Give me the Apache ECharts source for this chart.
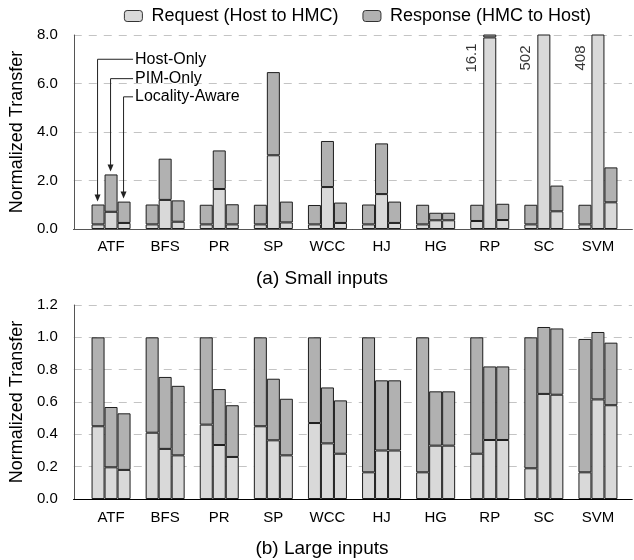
<!DOCTYPE html>
<html><head><meta charset="utf-8">
<script src="https://cdn.jsdelivr.net/npm/echarts@6/dist/echarts.min.js"></script>
<style>html,body{margin:0;padding:0;background:#fff}#c{width:634px;height:560px}</style>
</head><body><div id="c"></div>
<script>
// ---------- data ----------
const categories = ['ATF','BFS','PR','SP','WCC','HJ','HG','RP','SC','SVM'];
const configs = ['Host-Only','PIM-Only','Locality-Aware'];

// (a) Small inputs: request part and response part of each stacked bar
const smallHostReq  = [0.19,0.19,0.19,0.19,0.19,0.19,0.19,0.33,0.19,0.19];
const smallHostResp = [0.82,0.82,0.81,0.81,0.80,0.82,0.81,0.67,0.81,0.81];
const smallPimReq   = [0.71,1.20,1.65,3.04,1.73,1.44,0.36,7.9,499.5,406.0];
const smallPimResp  = [1.54,1.70,1.59,3.43,1.90,2.09,0.31,8.2,2.5,2.0];
const smallLaReq    = [0.25,0.30,0.19,0.27,0.25,0.25,0.36,0.37,0.73,1.10];
const smallLaResp   = [0.88,0.88,0.83,0.86,0.84,0.88,0.31,0.67,1.06,1.44];

// (b) Large inputs
const largeHostReq  = [0.45,0.41,0.46,0.45,0.47,0.165,0.165,0.28,0.19,0.165];
const largeHostResp = [0.55,0.59,0.54,0.55,0.53,0.835,0.835,0.72,0.81,0.825];
const largePimReq   = [0.196,0.31,0.334,0.363,0.344,0.30,0.33,0.365,0.65,0.616];
const largePimResp  = [0.373,0.445,0.346,0.381,0.346,0.434,0.336,0.455,0.414,0.417];
const largeLaReq    = [0.18,0.27,0.26,0.27,0.28,0.30,0.33,0.365,0.645,0.58];
const largeLaResp   = [0.35,0.43,0.32,0.35,0.33,0.434,0.336,0.455,0.41,0.387];

const smallTicks = {min:0, max:8, interval:2};
const largeTicks = {min:0, max:1.2, interval:0.2};
const reqName = 'Request (Host to HMC)';
const respName = 'Response (HMC to Host)';

// ---------- style ----------
const FONT = '"Liberation Sans", Arial, Helvetica, sans-serif';
const REQ_COLOR = '#d9d9d9', RESP_COLOR = '#b1b1b1', EDGE = '#1e1e1e';
const BAR_W = 13;

const chart = echarts.init(document.getElementById('c'), null, {renderer:'canvas'});

function barSeries(name, stack, data, color, axisIdx) {
  return {
    type:'bar', name, stack, data, xAxisIndex:axisIdx, yAxisIndex:axisIdx,
    barWidth:BAR_W, barGap:'0%',
    itemStyle:{color, borderColor:EDGE, borderWidth:1},
    emphasis:{disabled:true}, animation:false
  };
}
function panelSeries(prefix, arrs, axisIdx) {
  const out = [];
  configs.forEach((c, i) => {
    const st = prefix + '-' + c;
    out.push(barSeries(reqName, st, arrs[i][0], REQ_COLOR, axisIdx));
    out.push(barSeries(respName, st, arrs[i][1], RESP_COLOR, axisIdx));
  });
  return out;
}

const smallSeries = panelSeries('small', [[smallHostReq,smallHostResp],[smallPimReq,smallPimResp],[smallLaReq,smallLaResp]], 1);
const largeSeries = panelSeries('large', [[largeHostReq,largeHostResp],[largePimReq,largePimResp],[largeLaReq,largeLaResp]], 4);

// overflow labels for PIM-Only bars exceeding the top axis
const overflow = [];
categories.forEach((c, i) => {
  const tot = smallPimReq[i] + smallPimResp[i];
  if (tot > smallTicks.max) overflow.push([i, smallTicks.max, tot >= 100 ? Math.round(tot).toString() : tot.toFixed(1)]);
});

function frameAxes(grid, ticks, topColor, fmtDigits) {
  return {
    x: [
      {gridIndex:grid, type:'value', min:0, max:1, position:'bottom',
       axisLine:{show:true, lineStyle:{color:'#000', width:1}}, axisTick:{show:false}, axisLabel:{show:false}, splitLine:{show:false}},
      {gridIndex:grid, type:'value', min:0, max:1, position:'top',
       axisLine:{show:true, lineStyle:{color:topColor, width:1}}, axisTick:{show:false}, axisLabel:{show:false}, splitLine:{show:false}}
    ],
    y: {gridIndex:grid, type:'value', min:ticks.min, max:ticks.max, interval:ticks.interval,
      axisLine:{show:true, lineStyle:{color:'#555', width:1}}, axisTick:{show:false},
      axisLabel:{formatter:v => v.toFixed(fmtDigits), fontFamily:FONT, fontSize:15, color:'#000', margin:16},
      splitLine:{show:true, lineStyle:{color:'#c4c4c4', type:[8,7], width:1}},
      name:'Normalized Transfer', nameLocation:'middle', nameGap:45,
      nameTextStyle:{fontFamily:FONT, fontSize:18, color:'#000'}}
  };
}
const fa = frameAxes(0, smallTicks, '#555', 1);
const fb = frameAxes(2, largeTicks, '#000', 1);

function catAxis(grid, margin) {
  return {gridIndex:grid, type:'category', data:categories,
    axisLine:{show:false}, axisTick:{show:false}, splitLine:{show:false},
    axisLabel:{fontFamily:FONT, fontSize:15, color:'#000', margin, interval:0}};
}
function hiddenY(grid, ticks) {
  return {gridIndex:grid, type:'value', min:ticks.min, max:ticks.max, interval:ticks.interval, show:false, splitLine:{show:false}};
}

const option = {
  backgroundColor:'#fff',
  animation:false,
  textStyle:{fontFamily:FONT},
  legend:{
    data:[reqName, respName], top:2, right:38,
    itemWidth:18, itemHeight:11, itemGap:24,
    itemStyle:{borderColor:'#333', borderWidth:1},
    textStyle:{fontFamily:FONT, fontSize:18, color:'#000', padding:[0,0,0,4]},
    selectedMode:false
  },
  grid:[
    {left:73, right:2, top:35, height:194},
    {left:84, right:9, top:35, height:194},
    {left:73, right:2, top:305, height:194},
    {left:84, right:9, top:305, height:194}
  ],
  xAxis:[fa.x[0], catAxis(1, 10), fa.x[1], fb.x[0], catAxis(3, 11), fb.x[1]],
  yAxis:[fa.y, hiddenY(1, smallTicks), fa.y, fb.y, hiddenY(3, largeTicks), fb.y].map((a, i) => {
    if (i === 2 || i === 5) return Object.assign({}, a, {show:false, gridIndex: i === 2 ? 0 : 2});
    return a;
  }),
  title:[
    {text:'(a) Small inputs', left:317, top:264, textAlign:'center',
     textStyle:{fontFamily:FONT, fontSize:19, fontWeight:'normal', color:'#000'}},
    {text:'(b) Large inputs', left:317, top:534, textAlign:'center',
     textStyle:{fontFamily:FONT, fontSize:19, fontWeight:'normal', color:'#000'}}
  ],
  series:[
    ...smallSeries,
    ...largeSeries,
    {type:'scatter', xAxisIndex:1, yAxisIndex:1, data:overflow, symbolSize:1,
     itemStyle:{color:'rgba(0,0,0,0)'}, silent:true, z:5,
     label:{show:true, position:'inside', rotate:90, offset:[-23, -17.5],
       formatter:p => p.value[2], fontFamily:FONT, fontSize:15, color:'#000'}}
  ]
};
chart.setOption(option);

// ---------- annotations (anchored to the ATF bars via the axes) ----------
const labelLevels = [7.0, 6.2, 5.45];
const tops = [smallHostReq[0]+smallHostResp[0], smallPimReq[0]+smallPimResp[0], smallLaReq[0]+smallLaResp[0]];
const g = [];
const cx = chart.convertToPixel({gridIndex:1}, [0, 0])[0];
const textX = cx + BAR_W + 11;
configs.forEach((name, i) => {
  const bx = cx + (i - 1) * BAR_W - 0.5;
  const ly = chart.convertToPixel({gridIndex:1}, [0, labelLevels[i]])[1];
  const tip = chart.convertToPixel({gridIndex:1}, [0, tops[i]])[1] - 3;
  g.push({type:'polyline', shape:{points:[[textX-2, ly],[bx, ly],[bx, tip-6]]},
          style:{stroke:'#222', lineWidth:1, fill:null}, z:10});
  g.push({type:'polygon', shape:{points:[[bx-3, tip-7],[bx+3, tip-7],[bx, tip]]},
          style:{fill:'#222'}, z:10});
  g.push({type:'text', x:textX, y:ly, style:{text:name, fontFamily:FONT, fontSize:16, fill:'#000', textVerticalAlign:'middle', textAlign:'left'}, z:10});
});
chart.setOption({graphic:g});
</script></body></html>
